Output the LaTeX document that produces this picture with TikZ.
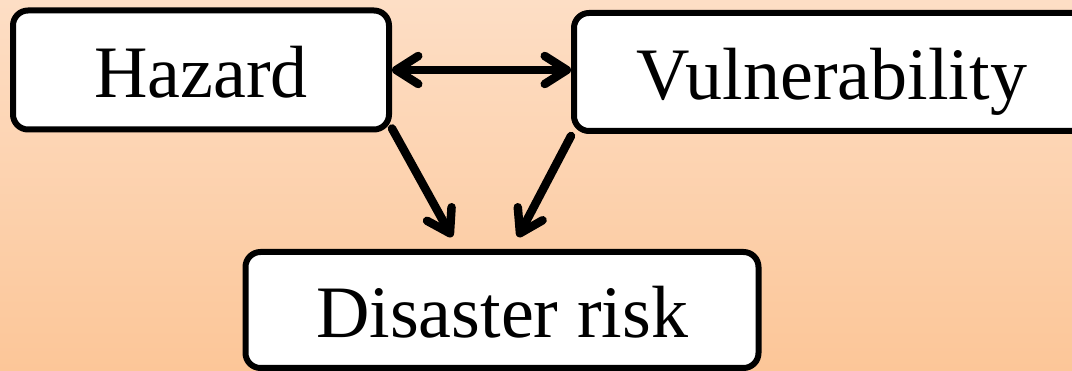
\documentclass[tikz,border=0pt]{standalone}
\usepackage{fontspec}
\setmainfont{Liberation Serif}
\usetikzlibrary{arrows.meta,calc}
\definecolor{bgtop}{RGB}{253,222,197}
\definecolor{bgbot}{RGB}{252,198,152}
\tikzset{
  box/.style={draw=black, line width=6pt, fill=white, rounded corners=15pt,
    inner sep=0pt, text height=56pt, text depth=0pt,
    font=\fontsize{74}{80}\selectfont},
  arr/.style={line width=8.5pt, line cap=round,
    -{Straight Barb[length=22pt,width=28pt,round]}},
  darr/.style={line width=8.5pt, line cap=round,
    {Straight Barb[length=22pt,width=28pt,round]}-{Straight Barb[length=22pt,width=28pt,round]}}
}
\begin{document}
\begin{tikzpicture}[x=1pt,y=-1pt]
\shade[top color=bgtop, bottom color=bgbot] (0,0) rectangle (1072,371);
\useasboundingbox (0,0) rectangle (1072,371);
\clip (0,0) rectangle (1072,371);
\node[box, minimum width=376pt, minimum height=119pt] (haz) at (201,70) {Hazard};
\node[box, minimum width=516pt, minimum height=118pt] (vul) at (832,72) {Vulnerability};
\node[box, minimum width=513pt, minimum height=116pt] (dis) at (502,310) {Disaster risk};
\coordinate (t1) at (452,237);
\coordinate (t2) at (518,237);
\draw[darr] (haz.east) -- (vul.west |- haz.east);
\draw[arr] ($(haz.south east)+(0,-4)$) -- (t1);
\draw[arr] ($(vul.south west)+(0,2)$) -- (t2);
\end{tikzpicture}
\end{document}
